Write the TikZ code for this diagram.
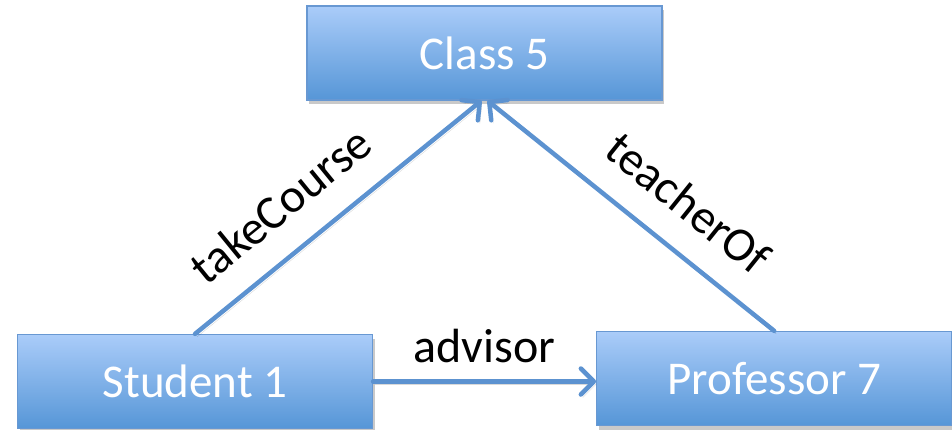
\documentclass[tikz,border=0pt]{standalone}
\usepackage{fontspec}
\setmainfont{Carlito}
\usetikzlibrary{positioning,arrows.meta,shadows}

\definecolor{boxtop}{RGB}{170,204,249}
\definecolor{boxbottom}{RGB}{86,150,215}
\definecolor{boxline}{RGB}{104,152,210}
\definecolor{linkblue}{RGB}{92,146,208}

\tikzset{
  entity/.style={rectangle, draw=boxline, line width=1.2pt,
    top color=boxtop, bottom color=boxbottom,
    minimum width=355pt, minimum height=94pt, inner sep=0pt,
    text=white, font=\fontsize{47}{56}\selectfont,
    drop shadow={shadow xshift=2pt, shadow yshift=-4pt, opacity=0.3, fill=black!70}},
  link/.style={draw=linkblue, line width=4.5pt, line cap=round,
    -{Straight Barb[length=13pt, width=26pt, round]},
    preaction={draw=black, opacity=0.15, transform canvas={xshift=2pt, yshift=-3pt}}},
  rel/.style={font=\fontsize{48}{56}\selectfont, inner sep=0pt}
}

\begin{document}
\begin{tikzpicture}[x=1pt, y=1pt]

  \useasboundingbox (0,0) rectangle (952,-429);

  % Define nodes
  \node[entity] (student1) at (195,-381.5) {Student 1};
  \node[entity, right=223pt of student1, yshift=3pt] (prof7) {Professor 7};
  \node[entity] (class5) at (484.5,-53) {Class 5};

  % Connect the nodes
  \draw[link] (student1.north) -- node[rel, sloped, above=27pt, pos=0.40] {takeCourse} ([xshift=-3pt]class5.south);
  \draw[link] (prof7.north) -- node[rel, sloped, above=27pt, pos=0.40] {teacherOf} ([xshift=3pt]class5.south);
  \draw[link] (student1.east) -- node[rel, above=16pt] {advisor} (prof7.west |- student1.east);

\end{tikzpicture}
\end{document}
